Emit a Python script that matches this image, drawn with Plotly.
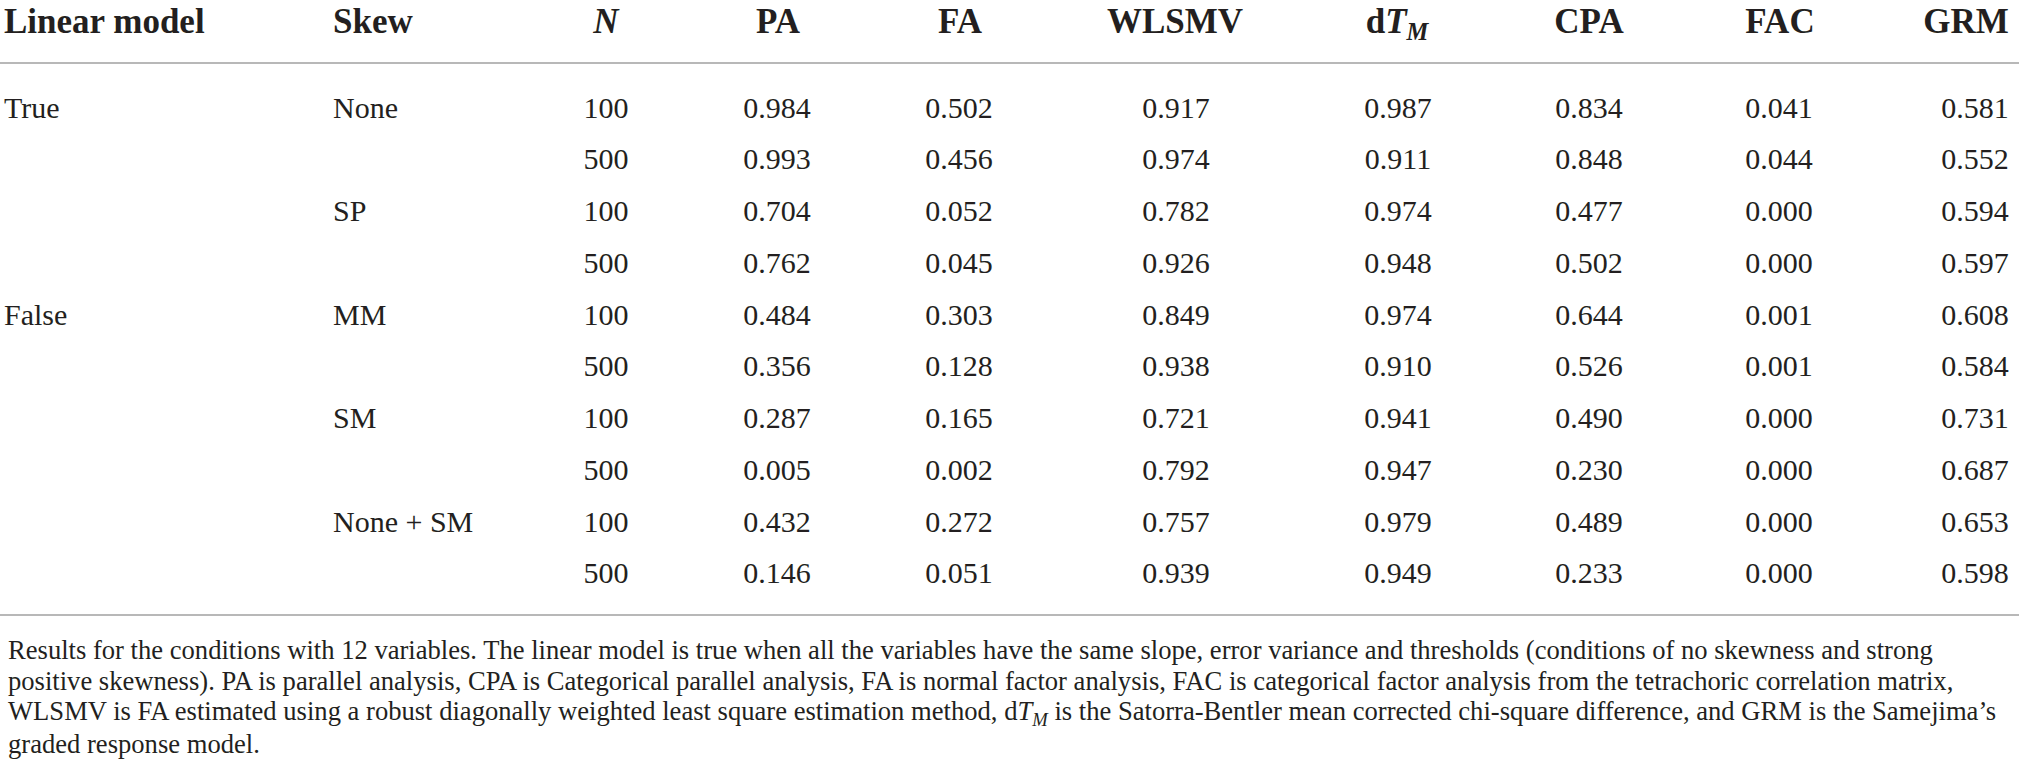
import plotly.graph_objects as go

# table contents
linear_model = ['True', '', '', '', 'False', '', '', '', '', '']
skew = ['None', '', 'SP', '', 'MM', '', 'SM', '', 'None + SM', '']
n_size = [100, 500, 100, 500, 100, 500, 100, 500, 100, 500]
methods = ['PA', 'FA', 'WLSMV', 'dTM', 'CPA', 'FAC', 'GRM']
header_labels = ['<b>PA</b>', '<b>FA</b>', '<b>WLSMV</b>',
                 '<b>d<i>T</i><sub><i>M</i></sub></b>',
                 '<b>CPA</b>', '<b>FAC</b>', '<b>GRM</b>']
pa = [0.984, 0.993, 0.704, 0.762, 0.484, 0.356, 0.287, 0.005, 0.432, 0.146]
fa = [0.502, 0.456, 0.052, 0.045, 0.303, 0.128, 0.165, 0.002, 0.272, 0.051]
wlsmv = [0.917, 0.974, 0.782, 0.926, 0.849, 0.938, 0.721, 0.792, 0.757, 0.939]
dtm = [0.987, 0.911, 0.974, 0.948, 0.974, 0.910, 0.941, 0.947, 0.979, 0.949]
cpa = [0.834, 0.848, 0.477, 0.502, 0.644, 0.526, 0.490, 0.230, 0.489, 0.233]
fac = [0.041, 0.044, 0.000, 0.000, 0.001, 0.001, 0.000, 0.000, 0.000, 0.000]
grm = [0.581, 0.552, 0.594, 0.597, 0.608, 0.584, 0.731, 0.687, 0.653, 0.598]
values = [pa, fa, wlsmv, dtm, cpa, fac, grm]

footnote = [
    "Results for the conditions with 12 variables. The linear model is true when all the variables have the same slope, error variance and thresholds (conditions of no skewness and strong",
    "positive skewness). PA is parallel analysis, CPA is Categorical parallel analysis, FA is normal factor analysis, FAC is categorical factor analysis from the tetrachoric correlation matrix,",
    "WLSMV is FA estimated using a robust diagonally weighted least square estimation method, d<i>T</i><sub><i>M</i></sub> is the Satorra-Bentler mean corrected chi-square difference, and GRM is the Samejima\u2019s",
    "graded response model.",
]

# layout (pixels)
W, H = 2019, 780
FONT = 'Liberation Serif'
INK = '#231f20'
RULE = '#a0a0a0'
left_x = 4
header_y = 24
row0_y, row_step = 110, 51.75
col_x = [777, 959, 1176, 1398, 1589, 1779, 1975]
head_x = [778, 960, 1175, 1397, 1589, 1780, 1966]
rows_y = [row0_y + i * row_step for i in range(len(n_size))]

fig = go.Figure()

body_font = dict(family=FONT, size=30, color=INK)
head_font = dict(family=FONT, size=35, color=INK)


def left_col(x, labels):
    keep = [(y, t) for y, t in zip(rows_y, labels) if t]
    fig.add_trace(go.Scatter(x=[x] * len(keep), y=[k[0] for k in keep], text=[k[1] for k in keep],
                             mode='text', textposition='middle right', textfont=body_font,
                             hoverinfo='skip', cliponaxis=False))


left_col(left_x, linear_model)
left_col(333, skew)
fig.add_trace(go.Scatter(x=[606] * len(rows_y), y=rows_y, text=[str(v) for v in n_size], mode='text',
                         textposition='middle center', textfont=body_font, hoverinfo='skip',
                         cliponaxis=False))

for x, col in zip(col_x, values):
    fig.add_trace(go.Scatter(x=[x] * len(col), y=rows_y, text=['%.3f' % v for v in col], mode='text',
                             textposition='middle center', textfont=body_font, hoverinfo='skip',
                             cliponaxis=False))

# header
fig.add_trace(go.Scatter(x=[left_x, 333], y=[header_y, header_y], text=['<b>Linear model</b>', '<b>Skew</b>'],
                         mode='text', textposition='middle right', textfont=head_font, hoverinfo='skip',
                         cliponaxis=False))
fig.add_trace(go.Scatter(x=[606] + head_x, y=[header_y] * (len(head_x) + 1),
                         text=['<b><i>N</i></b>'] + header_labels,
                         mode='text', textposition='middle center', textfont=head_font, hoverinfo='skip',
                         cliponaxis=False))

# rules
for y in [63, 615]:
    fig.add_shape(type='line', x0=0, x1=W, y0=y, y1=y, xref='x', yref='y',
                  line=dict(color=RULE, width=1.5))

# footnote
for i, line in enumerate(footnote):
    fig.add_annotation(x=left_x + 2, y=650 + i * 31.3, xref='x', yref='y', text=line, showarrow=False,
                       xanchor='left', yanchor='middle', font=dict(family=FONT, size=26.6, color=INK))

fig.update_layout(
    width=W, height=H, showlegend=False,
    margin=dict(l=0, r=0, t=0, b=0),
    paper_bgcolor='white', plot_bgcolor='white',
    xaxis=dict(range=[0, W], visible=False, fixedrange=True),
    yaxis=dict(range=[H, 0], visible=False, fixedrange=True),
)

# drop the default page margin so the figure fills the window
fig.write_html('out.html', config={'displayModeBar': False},
               post_script="document.body.style.margin='0';")
